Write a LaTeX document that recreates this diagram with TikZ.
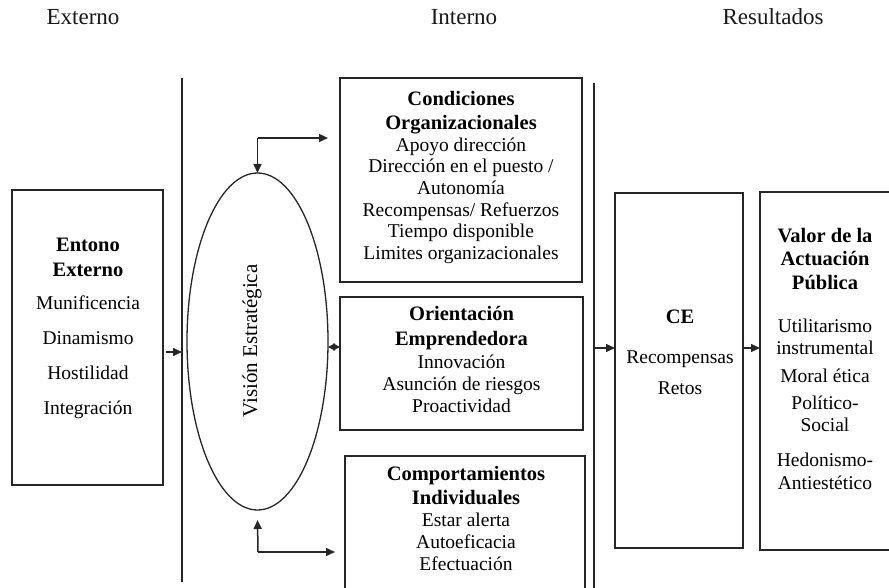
\documentclass[tikz,border=0pt]{standalone}
\usepackage{fontspec}
\setmainfont{Liberation Serif}
\usetikzlibrary{arrows.meta,shapes.geometric,calc}

\newcommand\hdline[1]{{\fontsize{20.5}{21}\selectfont\bfseries #1}}

\tikzset{
  ink/.style={draw=black!85},
  box/.style={ink, line width=1.9pt, rectangle, inner sep=0pt, outer sep=0pt},
  oval/.style={ink, line width=1.3pt, ellipse, inner sep=0pt, outer sep=0pt},
  divider/.style={ink, line width=1.8pt},
  body/.style={anchor=north, inner sep=0pt, align=center, text=black,
    font=\fontsize{19.5}{21}\selectfont},
  head/.style={anchor=base, inner sep=0pt, text=black!90,
    font=\fontsize{23}{26}\selectfont},
  arr/.style={ink, line width=1.5pt, -{Triangle[length=9pt,width=8pt]}},
  dblarr/.style={ink, line width=1.5pt,
    {Triangle[length=7pt,width=7pt]}-{Triangle[length=7pt,width=7pt]}},
}

\begin{document}
\begin{tikzpicture}[x=1pt,y=-1pt]
\useasboundingbox (0,0) rectangle (889,588);
\fill[white] (0,0) rectangle (889,588);
\clip (0,0) rectangle (889,588);

% column titles
\node[head] (hext) at (83,25) {Externo};
\node[head] (hint) at (464,25) {Interno};
\node[head] (hres) at (773,25) {Resultados};

% column dividers
\coordinate (l1top) at (182,78);
\coordinate (l1bot) at (182,582);
\coordinate (l2top) at (594,83);
\coordinate (l2bot) at (594,592);
\draw[divider] (l1top) -- (l1bot);
\draw[divider] (l2top) -- (l2bot);

% frames
\node[box, minimum width=151pt, minimum height=295pt] (ext) at (87.5,337.5) {};
\node[oval, minimum width=141pt, minimum height=337pt] (vis) at (257.5,341.5) {};
\node[box, minimum width=242pt, minimum height=204pt] (cond) at (461,180) {};
\node[box, minimum width=243pt, minimum height=133pt] (orient) at (461.5,363.5) {};
\node[box, minimum width=240pt, minimum height=154pt] (comp) at (465,533) {};
\node[box, minimum width=128pt, minimum height=355pt] (ce) at (679,370.5) {};
\node[box, minimum width=140pt, minimum height=358pt] (val) at (830,371) {};

% contents
\node[body] (ext-t) at (88,238)
  {\hdline{Entono}\\[4pt]\hdline{Externo}\\[12pt]Munificencia\\[14pt]Dinamismo\\[14pt]Hostilidad\\[14pt]Integración};
\node[body, rotate=90, anchor=center, font=\fontsize{21}{22}\selectfont] (vis-t) at (252,341) {Visión Estratégica};
\node[body, font=\fontsize{19.5}{21.7}\selectfont] (cond-t) at (461,91)
  {\hdline{Condiciones}\\[2.3pt]\hdline{Organizacionales}\\Apoyo dirección\\Dirección en el puesto /\\Autonomía\\Recompensas/ Refuerzos\\Tiempo disponible\\Limites organizacionales};
\node[body] (orient-t) at (461.5,306)
  {\hdline{Orientación}\\[4pt]\hdline{Emprendedora}\\[2pt]Innovación\\[1pt]Asunción de riesgos\\[1pt]Proactividad};
\node[body] (comp-t) at (466,466)
  {\hdline{Comportamientos}\\[3pt]\hdline{Individuales}\\[1pt]Estar alerta\\[1pt]Autoeficacia\\[1pt]Efectuación};
\node[body] (ce-t) at (680,310)
  {\hdline{CE}\\[19pt]Recompensas\\[10pt]Retos};
\node[body] (val-t) at (825,228)
  {\hdline{Valor de la}\\[2pt]\hdline{Actuación}\\[3pt]\hdline{Pública}\\[22pt]Utilitarismo\\[1pt]instrumental\\[7pt]Moral ética\\[6pt]Político-\\[1pt]Social\\[14pt]Hedonismo-\\[2pt]Antiestético};

% connectors
\draw[arr] ([xshift=3pt,yshift=-14.5pt]ext.east) -- ([yshift=-14.5pt]ext.east -| l1top);
\coordinate (ctop) at (257.5,138);
\draw[arr] (ctop) -- (vis.north);
\draw[arr] (ctop) -- ([xshift=-12pt]cond.west |- ctop);
\coordinate (cbot) at (258,552);
\draw[arr] (cbot) -- ([yshift=-10pt]vis.south);
\draw[arr] (cbot) -- ([xshift=-10pt]comp.west |- cbot);
\draw[dblarr] ([yshift=-5.5pt]vis.east) -- ([yshift=-5.5pt]vis.east -| orient.west);
\draw[arr] ([yshift=22.5pt]ce.west -| l2top) -- ([yshift=22.5pt]ce.west);
\draw[arr] ([yshift=22.5pt]ce.east) -- ([yshift=22.5pt]ce.east -| val.west);
\end{tikzpicture}
\end{document}
